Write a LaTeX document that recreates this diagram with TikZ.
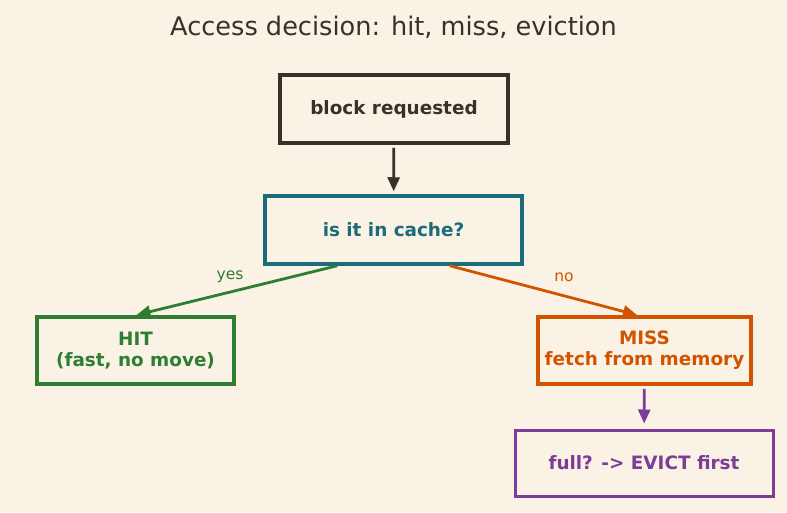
\documentclass[tikz,border=0pt]{standalone}
\usepackage{fontspec}
\setmainfont{DejaVu Sans}
\usetikzlibrary{arrows.meta,calc}
\definecolor{bg}{HTML}{FAF2E4}
\definecolor{cbrown}{HTML}{3B2F2A}
\definecolor{cteal}{HTML}{1B6B7B}
\definecolor{cgreen}{HTML}{2E7D32}
\definecolor{corange}{HTML}{D35400}
\definecolor{cpurple}{HTML}{7D3C98}
\tikzset{
  box/.style={draw, line width=3.5pt, fill=bg, inner sep=0pt, align=center,
    font=\fontsize{18.4}{21}\selectfont\bfseries},
  arr/.style={line width=2.8pt, -{Triangle[length=14pt,width=12pt]}},
  lbl/.style={font=\fontsize{15.5}{18}\selectfont}
}
\begin{document}
\begin{tikzpicture}[x=1pt,y=-1pt]
\fill[bg] (0,0) rectangle (787,512);
\useasboundingbox (0,0) rectangle (787,512);
\node[font=\fontsize{25.6}{30}\selectfont, text=cbrown] (title) at (393.5,27) {Access decision: hit, miss, eviction};
\node[box, draw=cbrown, text=cbrown, minimum width=228pt, minimum height=68pt] (block) at (394,109) {\raisebox{-2pt}{block requested}};
\node[box, draw=cteal, text=cteal, minimum width=257pt, minimum height=68pt] (cache) at (393.5,230) {\raisebox{-2pt}{is it in cache?}};
\node[box, draw=cgreen, text=cgreen, minimum width=197pt, minimum height=67pt] (hit) at (135.5,350.5) {HIT\\(fast, no move)};
\node[box, draw=corange, text=corange, minimum width=213pt, minimum height=67pt] (miss) at (644.5,350.5) {MISS\\fetch from memory};
\node[box, draw=cpurple, text=cpurple, line width=3pt, minimum width=258pt, minimum height=66pt] (full) at (644,463) {\raisebox{-2pt}{full? -> EVICT first}};
\draw[arr, cbrown, shorten <=3pt, shorten >=3pt] (block) -- (cache);
\draw[arr, cgreen, shorten >=1pt] ($(cache.south west)!0.284!(cache.south east)$) -- (hit.north);
\draw[arr, corange, shorten >=1pt] ($(cache.south west)!0.716!(cache.south east)$) -- ($(miss.north west)!0.47!(miss.north east)$);
\draw[arr, cpurple, shorten <=3pt, shorten >=5pt] (miss) -- (full);
\node[lbl, text=cgreen] (yes) at (230,277) {yes};
\node[lbl, text=corange] (no) at (564,277) {no};
\end{tikzpicture}
\end{document}
